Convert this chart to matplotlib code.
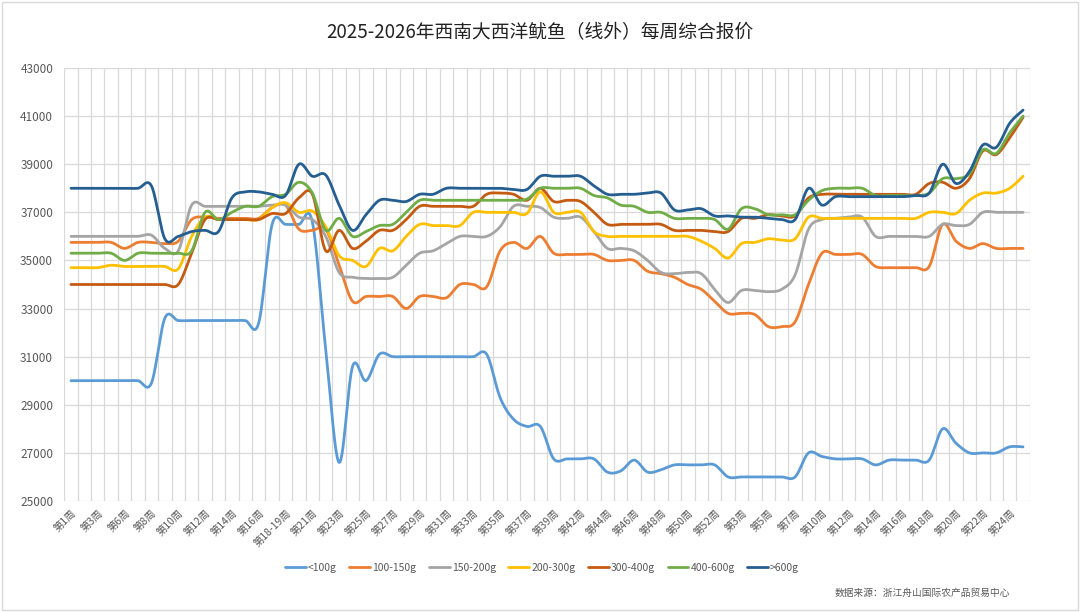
import numpy as np
import matplotlib.pyplot as plt
from matplotlib.patches import Rectangle

plt.rcParams['font.family'] = ['Noto Sans CJK SC', 'DejaVu Sans']

# 周次（2025 第1周 至 2026 第25周），只每隔一个显示
weeks = ['第1周', '第2周', '第3周', '第4周', '第6周', '第7周', '第8周', '第9周',
         '第10周', '第11周', '第12周', '第13周', '第14周', '第15周', '第16周', '第17周',
         '第18-19周', '第20周', '第21周', '第22周', '第23周', '第24周', '第25周', '第26周',
         '第27周', '第28周', '第29周', '第30周', '第31周', '第32周', '第33周', '第34周',
         '第35周', '第36周', '第37周', '第38周', '第39周', '第40周', '第42周', '第43周',
         '第44周', '第45周', '第46周', '第47周', '第48周', '第49周', '第50周', '第51周',
         '第52周', '第1周', '第3周', '第4周', '第5周', '第6周', '第7周', '第8周',
         '第10周', '第11周', '第12周', '第13周', '第14周', '第15周', '第16周', '第17周',
         '第18周', '第19周', '第20周', '第21周', '第22周', '第23周', '第24周', '第25周']

s_lt100 = [30000, 30000, 30000, 30000, 30000, 30000, 29900, 32600, 32500, 32500,
           32500, 32500, 32500, 32500, 32400, 36500, 36500, 36500, 36600, 31300,
           26600, 30600, 30000, 31100, 31000, 31000, 31000, 31000, 31000, 31000,
           31000, 31100, 29300, 28400, 28100, 28100, 26750, 26750, 26750, 26750,
           26200, 26250, 26700, 26200, 26300, 26500, 26500, 26500, 26500, 26000,
           26000, 26000, 26000, 26000, 26000, 27000, 26850, 26750, 26750, 26750,
           26500, 26700, 26700, 26700, 26700, 28000, 27400, 27000, 27000, 27000,
           27250, 27250]
s_100_150 = [35750, 35750, 35750, 35750, 35500, 35750, 35750, 35700, 35800, 36700,
             36800, 36750, 36750, 36750, 36750, 37200, 37300, 36300, 36250, 36300,
             34800, 33300, 33500, 33500, 33500, 33000, 33500, 33500, 33450, 34000,
             34000, 33900, 35400, 35750, 35500, 36000, 35300, 35250, 35250, 35250,
             35000, 35000, 35000, 34550, 34450, 34300, 34000, 33800, 33300, 32800,
             32800, 32750, 32250, 32250, 32450, 34000, 35300, 35250, 35250, 35250,
             34750, 34700, 34700, 34700, 34750, 36500, 35800, 35500, 35700, 35500,
             35500, 35500]
s_150_200 = [36000, 36000, 36000, 36000, 36000, 36000, 36050, 35500, 35400, 37300,
             37250, 37250, 37250, 37250, 37250, 37300, 37300, 36800, 36700, 36000,
             34500, 34300, 34250, 34250, 34300, 34800, 35300, 35400, 35700, 36000,
             36000, 36000, 36400, 37250, 37250, 37200, 36800, 36750, 36800, 36200,
             35500, 35500, 35400, 35000, 34500, 34450, 34500, 34450, 33800, 33250,
             33750, 33750, 33700, 33800, 34400, 36300, 36700, 36750, 36800, 36800,
             36000, 36000, 36000, 36000, 36000, 36500, 36450, 36500, 37000, 37000,
             37000, 37000]
s_200_300 = [34700, 34700, 34700, 34800, 34750, 34750, 34750, 34750, 34650, 36000,
             36800, 36700, 36700, 36700, 36700, 37200, 37400, 37000, 37050, 36400,
             35200, 35000, 34750, 35500, 35400, 36000, 36500, 36450, 36450, 36450,
             37000, 37000, 37000, 37000, 36950, 37850, 37000, 37000, 37000, 36200,
             36000, 36000, 36000, 36000, 36000, 36000, 36000, 35800, 35500, 35100,
             35700, 35750, 35900, 35850, 35900, 36800, 36750, 36750, 36750, 36750,
             36750, 36750, 36750, 36750, 37000, 37000, 36950, 37500, 37800, 37800,
             38000, 38500]
s_300_400 = [34000, 34000, 34000, 34000, 34000, 34000, 34000, 34000, 34000, 35300,
             36700, 36700, 36700, 36700, 36700, 36950, 36950, 37600, 37750, 35400,
             36250, 35500, 35800, 36250, 36250, 36700, 37250, 37250, 37250, 37250,
             37250, 37750, 37800, 37750, 37500, 38000, 37450, 37500, 37450, 37000,
             36500, 36500, 36500, 36500, 36500, 36250, 36250, 36250, 36200, 36200,
             36750, 36750, 36900, 36850, 36850, 37600, 37750, 37750, 37750, 37750,
             37750, 37750, 37750, 37750, 38200, 38250, 38000, 38400, 39550, 39400,
             40100, 40950]
s_400_600 = [35300, 35300, 35300, 35300, 35000, 35300, 35300, 35300, 35300, 35400,
             37000, 36700, 37000, 37250, 37250, 37650, 37750, 38250, 37800, 36250,
             36750, 36000, 36200, 36450, 36500, 37000, 37500, 37500, 37500, 37500,
             37500, 37500, 37500, 37500, 37550, 38000, 38000, 38000, 38000, 37700,
             37600, 37300, 37250, 37000, 37000, 36750, 36750, 36750, 36700, 36300,
             37150, 37150, 36900, 36900, 36900, 37500, 37900, 38000, 38000, 38000,
             37700, 37700, 37700, 37700, 37800, 38400, 38400, 38600, 39600, 39450,
             40300, 41000]
s_gt600 = [38000, 38000, 38000, 38000, 38000, 38000, 38100, 35900, 36000, 36200,
           36250, 36200, 37600, 37850, 37850, 37750, 37700, 39000, 38500, 38550,
           37300, 36250, 36900, 37500, 37500, 37450, 37750, 37750, 38000, 38000,
           38000, 38000, 38000, 37950, 37950, 38500, 38500, 38500, 38500, 38100,
           37750, 37750, 37750, 37800, 37800, 37100, 37100, 37150, 36850, 36850,
           36800, 36800, 36750, 36700, 36700, 38000, 37300, 37650, 37650, 37650,
           37650, 37650, 37650, 37700, 37800, 39000, 38200, 38700, 39800, 39700,
           40700, 41250]

series_names = ['<100g', '100-150g', '150-200g', '200-300g', '300-400g', '400-600g', '>600g']
series_values = [s_lt100, s_100_150, s_150_200, s_200_300, s_300_400, s_400_600, s_gt600]
colors = ['#5B9BD5', '#ED7D31', '#A5A5A5', '#FFC000', '#C55A11', '#70AD47', '#255E91']


def smooth(values, n=16):
    """Excel 式平滑线：Catmull-Rom 转三次贝塞尔"""
    pts = np.column_stack([np.arange(len(values)), np.asarray(values, float)])
    pad = np.vstack([pts[0], pts, pts[-1]])
    t = np.linspace(0, 1, n)[:, None]
    out = []
    for i in range(len(pts) - 1):
        p0, p1, p2, p3 = pad[i], pad[i + 1], pad[i + 2], pad[i + 3]
        c1 = p1 + (p2 - p0) / 6
        c2 = p2 - (p3 - p1) / 6
        seg = (1 - t) ** 3 * p1 + 3 * (1 - t) ** 2 * t * c1 + 3 * (1 - t) * t ** 2 * c2 + t ** 3 * p2
        out.append(seg if i == 0 else seg[1:])
    return np.vstack(out)


fig = plt.figure(figsize=(10.8, 6.12), dpi=100)
ax = fig.add_axes([0.0595, 0.1814, 0.894, 0.7075])

for name, vals, c in zip(series_names, series_values, colors):
    curve = smooth(vals)
    ax.plot(curve[:, 0], curve[:, 1], color=c, lw=2.0, label=name, solid_capstyle='round')

n = len(weeks)
ax.set_xlim(-0.5, n - 0.5)
ax.set_ylim(25000, 43000)
ax.set_yticks(np.arange(25000, 43001, 2000))
ax.set_xticks(np.arange(0, n, 2))
ax.set_xticklabels(weeks[::2], rotation=45, ha='right', rotation_mode='anchor',
                   fontsize=7.5, color='#595959')
ax.set_xticks(np.arange(-0.5, n, 1), minor=True)
ax.tick_params(axis='both', length=0, which='both')
ax.tick_params(axis='y', labelsize=8.5, labelcolor='#595959', pad=8)
ax.tick_params(axis='x', pad=5)
ax.grid(True, axis='y', which='major', color='#D9D9D9', lw=0.9)
ax.grid(True, axis='x', which='minor', color='#D9D9D9', lw=0.9)
ax.grid(False, axis='x', which='major')
for sp in ax.spines.values():
    sp.set_visible(False)
ax.set_axisbelow(True)

fig.text(0.5, 0.946, '2025-2026年西南大西洋鱿鱼（线外）每周综合报价',
         ha='center', va='center', fontsize=13.5, color='#222222')

fig.legend(loc='center', bbox_to_anchor=(0.502, 0.072), ncol=7, frameon=False,
           fontsize=7.5, handlelength=2.0, handletextpad=0.2, columnspacing=1.2,
           labelcolor='#595959')

fig.text(0.773, 0.032, '数据来源：浙江舟山国际农产品贸易中心', fontsize=7, color='#595959',
         va='center')

fig.add_artist(Rectangle((0.002, 0.003), 0.996, 0.994, transform=fig.transFigure,
                         fill=False, edgecolor='#D9D9D9', lw=1))

fig.savefig('out.png', dpi=100, facecolor='white')
